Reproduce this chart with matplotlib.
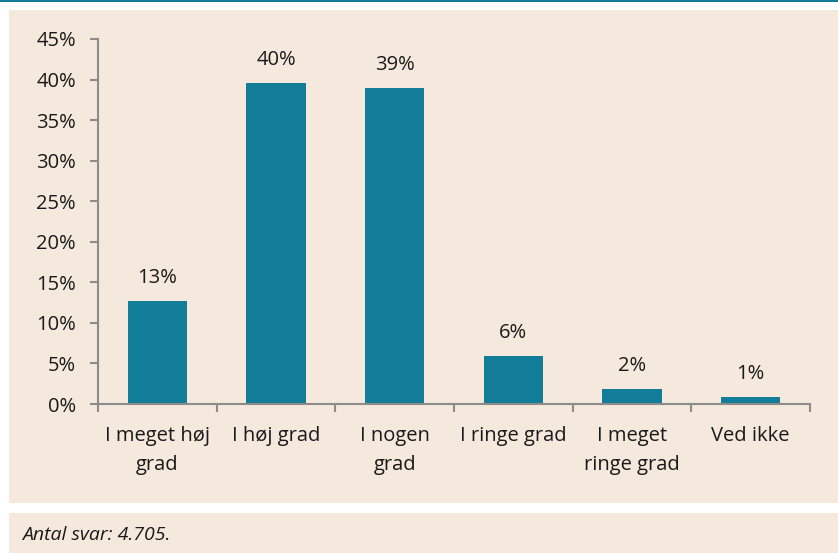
import matplotlib
matplotlib.use("Agg")
import matplotlib.pyplot as plt
from matplotlib.patches import Rectangle

categories = ["I meget høj\ngrad", "I høj grad", "I nogen\ngrad", "I ringe grad", "I meget\nringe grad", "Ved ikke"]
values = [12.7, 39.6, 39.0, 5.9, 1.9, 0.9]
value_labels = ["13%", "40%", "39%", "6%", "2%", "1%"]
yticks = [0, 5, 10, 15, 20, 25, 30, 35, 40, 45]
footer_text = "Antal svar: 4.705."

W, H = 838, 553
bg = "#f5e8dc"
teal = "#127d99"
axis_gray = "#8c8c8c"
text_col = "#1a1a1a"
fs = 14.5

plt.rcParams["font.family"] = ["Open Sans", "DejaVu Sans"]

fig = plt.figure(figsize=(W / 100, H / 100), dpi=100)
fig.patch.set_facecolor("white")

# panels and top line (pixel coords -> figure fraction)
def px_rect(x0, y0, x1, y1, color):
    fig.patches.append(Rectangle((x0 / W, 1 - y1 / H), (x1 - x0) / W, (y1 - y0) / H,
                                 transform=fig.transFigure, facecolor=color,
                                 edgecolor="none", zorder=-5))

px_rect(0, 0, W, 2, teal)
px_rect(9, 10, W, 503, bg)
px_rect(9, 513, W, H, bg)

ax = fig.add_axes([98 / W, 1 - 404 / H, 712 / W, 365 / H])
ax.set_facecolor("none")

x = list(range(len(categories)))
bars = ax.bar(x, values, width=0.5, color=teal, zorder=2)
for xi, v, lab in zip(x, values, value_labels):
    ax.text(xi, v + 1.6, lab, ha="center", va="bottom", fontsize=fs, color=text_col)

ax.set_xlim(-0.5, len(categories) - 0.5)
ax.set_ylim(0, 45)
ax.set_yticks(yticks)
ax.set_yticklabels([f"{t}%" for t in yticks], fontsize=fs, color=text_col)

ax.set_xticks([i - 0.5 for i in range(len(categories) + 1)])
ax.set_xticklabels([])
ax.set_xticks(x, minor=True)
ax.set_xticklabels(categories, minor=True, fontsize=fs, color=text_col, linespacing=1.6)
ax.tick_params(axis="x", which="minor", length=0, pad=16)
ax.tick_params(axis="x", which="major", length=6, width=1.5, color=axis_gray)
ax.tick_params(axis="y", length=6, width=1.5, color=axis_gray, pad=10)

for s in ["top", "right"]:
    ax.spines[s].set_visible(False)
for s in ["left", "bottom"]:
    ax.spines[s].set_color(axis_gray)
    ax.spines[s].set_linewidth(1.5)

fig.text(22 / W, 1 - 535 / H, footer_text, fontsize=14, style="italic",
         color=text_col, va="center", ha="left")

fig.savefig("out.png", dpi=100, facecolor=fig.get_facecolor())
